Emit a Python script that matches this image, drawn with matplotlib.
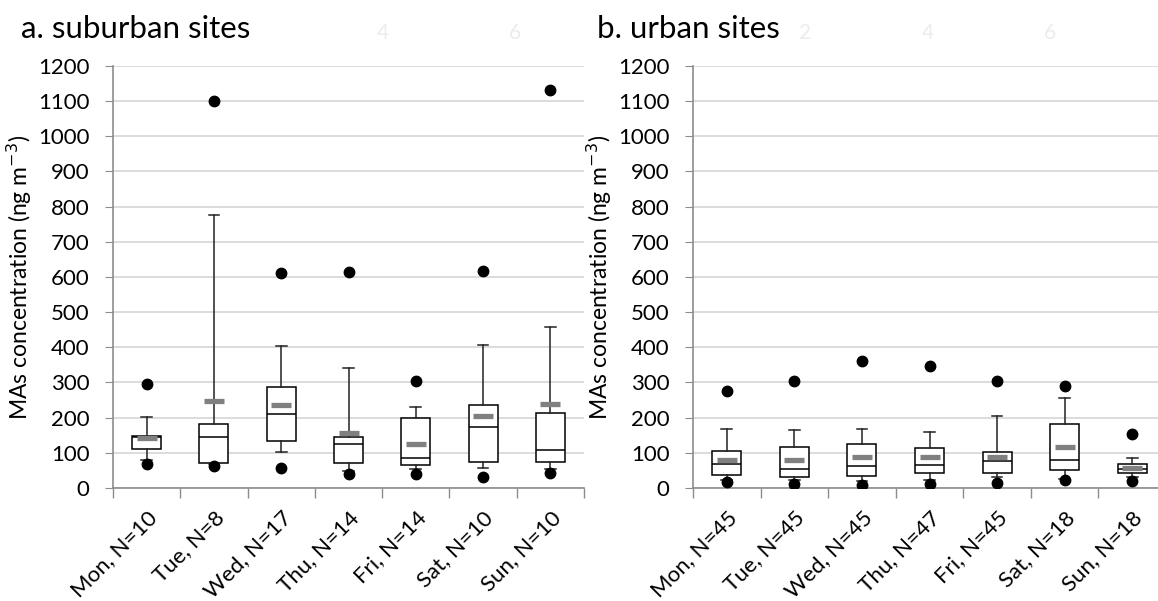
import numpy as np
import matplotlib.pyplot as plt
import matplotlib.transforms as mtransforms

plt.rcParams['font.family'] = ['Lato', 'DejaVu Sans']

# ----------------------------
# Data
# ----------------------------
sub_labels = ["Mon, N=10", "Tue, N=8", "Wed, N=17", "Thu, N=14",
              "Fri, N=14", "Sat, N=10", "Sun, N=10"]
sub_q1 = [110, 72, 134, 72, 65, 75, 75]
sub_med = [145, 145, 211, 124, 85, 173, 109]
sub_q3 = [148, 182, 287, 145, 200, 237, 213]
sub_whislo = [79, 68, 102, 48, 54, 58, 54]
sub_whishi = [203, 775, 403, 342, 231, 407, 458]
sub_mean = [142, 248, 236, 157, 125, 205, 239]
sub_out_hi = [295, 1100, 612, 615, 305, 618, 1133]
sub_out_lo = [67, 63, 58, 39, 39, 31, 43]

urb_labels = ["Mon, N=45", "Tue, N=45", "Wed, N=45", "Thu, N=47",
              "Fri, N=45", "Sat, N=18", "Sun, N=18"]
urb_q1 = [38, 30, 34, 44, 44, 50, 44]
urb_med = [69, 55, 62, 65, 76, 80, 53]
urb_q3 = [106, 117, 124, 114, 103, 183, 69]
urb_whislo = [24, 24, 20, 24, 30, 27, 30]
urb_whishi = [169, 165, 169, 158, 206, 255, 86]
urb_mean = [80, 80, 88, 88, 88, 116, 58]
urb_out_hi = [277, 304, 360, 346, 305, 291, 153]
urb_out_lo = [17, 11, 8, 10, 14, 24, 21]

GRID = "#d9d9d9"
AXC = "#8c8c8c"


def make_stats(q1, med, q3, lo, hi, mean, out_hi, out_lo):
    stats = []
    for i in range(len(q1)):
        stats.append({
            "q1": q1[i], "med": med[i], "q3": q3[i],
            "whislo": lo[i], "whishi": hi[i], "mean": mean[i],
            "fliers": [out_hi[i], out_lo[i]],
        })
    return stats


def draw_panel(ax, stats, labels):
    ax.bxp(stats, positions=np.arange(len(stats)), widths=0.43,
           showmeans=True, patch_artist=True, zorder=3,
           boxprops=dict(facecolor="white", edgecolor="black", linewidth=1.1),
           medianprops=dict(color="black", linewidth=1.1),
           whiskerprops=dict(color="#222222", linewidth=1.1),
           capprops=dict(color="#222222", linewidth=1.1),
           capwidths=0.16,
           meanprops=dict(marker="_", markeredgecolor="#808080",
                          markersize=14.5, markeredgewidth=3.8),
           flierprops=dict(marker="o", markerfacecolor="black",
                           markeredgecolor="black", markersize=7.5))

    ax.set_xlim(-0.5, len(stats) - 0.5)
    ax.set_ylim(0, 1200)
    ax.set_yticks(np.arange(0, 1201, 100))
    ax.tick_params(axis="y", labelsize=16, length=6, color=AXC, pad=11)
    ax.yaxis.grid(True, color=GRID, linewidth=1.3, zorder=0)
    ax.set_axisbelow(True)

    # category labels at centres, tick marks at boundaries
    ax.set_xticks(np.arange(len(stats)))
    ax.set_xticklabels(labels, rotation=45, ha="right",
                       rotation_mode="anchor", fontsize=16)
    shift = mtransforms.ScaledTranslation(5 / 100, 0, ax.figure.dpi_scale_trans)
    for lab in ax.get_xticklabels():
        lab.set_transform(lab.get_transform() + shift)
    ax.tick_params(axis="x", which="major", length=0, pad=14)
    ax.set_xticks(np.arange(len(stats) + 1) - 0.5, minor=True)
    ax.tick_params(axis="x", which="minor", length=7, color=AXC, width=1)

    for s in ("top", "right"):
        ax.spines[s].set_visible(False)
    for s in ("left", "bottom"):
        ax.spines[s].set_color(AXC)
        ax.spines[s].set_linewidth(1.2)

    ax.set_ylabel("MAs concentration (ng m$^{-3}$)", fontsize=16.5, labelpad=3)


fig = plt.figure(figsize=(11.58, 6.01), dpi=100)
ax1 = fig.add_axes([113 / 1158, 1 - 488 / 601, 471 / 1158, 422 / 601])
ax2 = fig.add_axes([693 / 1158, 1 - 488 / 601, 473 / 1158, 422 / 601])

draw_panel(ax1, make_stats(sub_q1, sub_med, sub_q3, sub_whislo, sub_whishi,
                           sub_mean, sub_out_hi, sub_out_lo), sub_labels)
draw_panel(ax2, make_stats(urb_q1, urb_med, urb_q3, urb_whislo, urb_whishi,
                           urb_mean, urb_out_hi, urb_out_lo), urb_labels)

fig.text(21 / 1158, 1 - 38 / 601, "a. suburban sites", fontsize=22.5,
         va="baseline")
fig.text(597 / 1158, 1 - 38 / 601, "b. urban sites", fontsize=22.5,
         va="baseline")

# faint leftover numbers near the titles
for xp, t in [(383, "4"), (515, "6"), (805, "2"), (928, "4"), (1050, "6")]:
    fig.text(xp / 1158, 1 - 33 / 601, t, fontsize=15, color="#ececec",
             ha="center", va="center")

fig.savefig("out.png", dpi=100)
